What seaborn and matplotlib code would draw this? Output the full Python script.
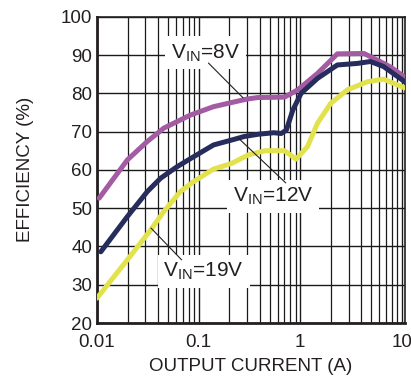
import numpy as np
import pandas as pd
import seaborn as sns
from matplotlib import pyplot as plt
from matplotlib.ticker import LogLocator, FixedLocator, NullFormatter

# efficiency curves
x_8v = [0.0105, 0.0199, 0.0312, 0.0454, 0.0828, 0.14, 0.212, 0.30, 0.385, 0.70,
        0.946, 1.48, 2.32, 4.24, 5.7, 7.7, 10.7]
y_8v = [52.6, 62.6, 67.4, 70.9, 74.3, 76.5, 77.6, 78.5, 78.9, 79.0,
        80.9, 85.2, 90.3, 90.4, 88.7, 86.9, 84.2]

x_12v = [0.0109, 0.0199, 0.0312, 0.0422, 0.0612, 0.089, 0.14, 0.212, 0.28, 0.385,
         0.55, 0.65, 0.73, 0.845, 1.02, 1.48, 2.32, 3.65, 4.9, 6.6, 10.7]
y_12v = [38.6, 47.8, 54.3, 57.8, 60.8, 63.4, 66.5, 67.8, 68.7, 69.3,
         69.7, 69.5, 70.4, 75.6, 80.0, 83.9, 87.4, 87.8, 88.3, 87.0, 83.0]

x_19v = [0.01, 0.0199, 0.0337, 0.0454, 0.066, 0.089, 0.14, 0.212, 0.308, 0.45,
         0.70, 0.91, 1.18, 1.48, 2.0, 2.91, 4.57, 6.6, 10.7]
y_19v = [26.5, 36.5, 44.3, 49.1, 54.3, 56.9, 60.2, 61.7, 63.9, 65.0,
         65.0, 62.8, 66.1, 72.2, 77.4, 80.9, 83.0, 83.7, 81.4]

series_names = ["VIN=8V", "VIN=12V", "VIN=19V"]
series_colors = ["#a35ba3", "#262c5c", "#e2e24c"]

df = pd.concat([
    pd.DataFrame({"current": x_8v, "eff": y_8v, "vin": series_names[0]}),
    pd.DataFrame({"current": x_12v, "eff": y_12v, "vin": series_names[1]}),
    pd.DataFrame({"current": x_19v, "eff": y_19v, "vin": series_names[2]}),
])

sns.set_style("white")
plt.rcParams["font.family"] = ["Liberation Sans", "DejaVu Sans"]
plt.rcParams["mathtext.fontset"] = "custom"
plt.rcParams["mathtext.rm"] = "Liberation Sans"

fig = plt.figure(figsize=(4.11, 3.80), dpi=100)
ax = fig.add_axes([0.236, 0.150, 0.749, 0.806])

sns.lineplot(data=df, x="current", y="eff", hue="vin", palette=series_colors,
             sort=False, estimator=None, linewidth=3.6, legend=False, ax=ax, zorder=3)
for ln in ax.lines:
    ln.set_solid_joinstyle("round")

ax.set_xscale("log")
ax.set_xlim(0.01, 10.7)
ax.set_ylim(20, 100)
ax.xaxis.set_major_locator(FixedLocator([0.01, 0.1, 1, 10]))
ax.xaxis.set_major_formatter(plt.FuncFormatter(lambda v, p: f"{v:g}"))
ax.xaxis.set_minor_locator(LogLocator(base=10, subs=np.arange(2, 10)))
ax.xaxis.set_minor_formatter(NullFormatter())
ax.set_yticks(range(20, 101, 10))

ax.grid(True, which="major", color="#1a1a1a", linewidth=1.0)
ax.grid(True, which="minor", axis="x", color="#1a1a1a", linewidth=0.9)
ax.tick_params(which="both", length=0, labelsize=13.5, colors="#231f20")
ax.tick_params(axis="x", pad=8)
ax.tick_params(axis="y", pad=3.5)
for s in ax.spines.values():
    s.set_color("#231f20")
    s.set_linewidth(1.2)
ax.spines["left"].set_linewidth(2)
ax.spines["bottom"].set_linewidth(2)

ax.set_xlabel("OUTPUT CURRENT (A)", fontsize=13.5, color="#231f20", labelpad=5)
ax.set_ylabel("EFFICIENCY (%)", fontsize=13.5, color="#231f20", labelpad=19)

box = dict(facecolor="white", edgecolor="none", pad=4)
txt = dict(fontsize=15, ha="center", va="center", bbox=box, zorder=4, color="#231f20")
lead = dict(color="#231f20", linewidth=0.8, zorder=4)

ax.text(0.117, 90.6, r"V$_{\mathregular{IN}}$=8V", **txt)
ax.plot([0.125, 0.274], [87.9, 78.8], **lead)

ax.text(0.54, 53.0, r"V$_{\mathregular{IN}}$=12V", **txt)
ax.plot([0.246, 0.72], [68.3, 56.6], **lead)

ax.text(0.112, 33.4, r"V$_{\mathregular{IN}}$=19V", **txt)
ax.plot([0.034, 0.068], [44.8, 36.5], **lead)

fig.savefig("out.png", dpi=100)
